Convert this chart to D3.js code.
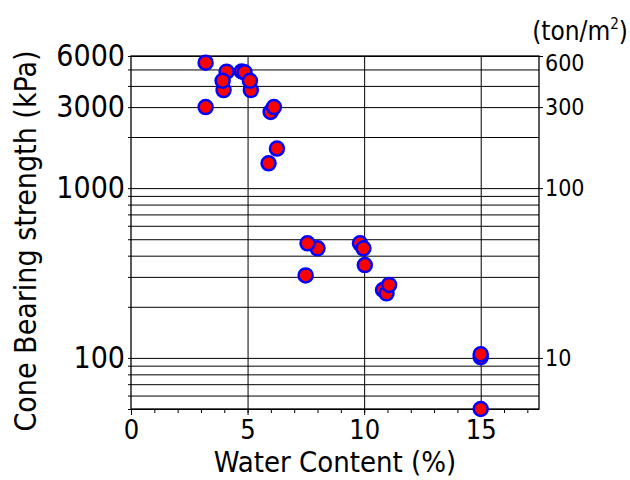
<!DOCTYPE html>
<html><head><meta charset="utf-8">
<script src="https://cdn.jsdelivr.net/npm/d3@7"></script>
<style>
body{margin:0;background:#fff;}
svg text{font-family:"Comic Sans MS","DejaVu Sans Condensed","DejaVu Sans",sans-serif;fill:#000;}
</style></head><body>
<svg id="c" width="630" height="480"></svg>
<script>
// ---- data ----
const waterContent = [3.2, 3.2, 4.1, 3.97, 3.93, 4.75, 4.87, 5.14, 5.1, 5.99, 6.13, 6.26, 5.9, 8.0, 7.57, 7.49, 9.82, 9.97, 10.03, 10.81, 10.96, 11.07, 15, 15, 15];
const coneBearing  = [5480, 3000, 4850, 3780, 4290, 4870, 4810, 3780, 4290, 2810, 3000, 1710, 1400, 442, 473, 306, 473, 442, 352, 251, 240, 269, 101, 105, 50];
const leftTickLabels  = [100, 1000, 3000, 6000];
const rightTickLabels = [10, 100, 300, 600];
const xTickLabels = [0, 5, 10, 15];
const xMinorTicks = [0,1,2,3,4,5,6,7,8,9,10,11,12,13,14,15,16,17];
const gridValues = [50,60,70,80,90,100,200,300,400,500,600,700,800,900,1000,2000,3000,4000,5000,6000];
const kPaPerTon = 10;

// ---- layout ----
const svg = d3.select("#c");
const m = {l:131, r:539, t:56, b:409};
const x = d3.scaleLinear().domain([0, 17.5]).range([m.l, m.r]);
const y = d3.scaleLog().domain([50, 6000]).range([m.b, m.t]);
const yR = d3.scaleLog().domain([50/kPaPerTon, 6000/kPaPerTon]).range([m.b, m.t]);

function styleAxis(g, size){
  g.attr("font-family", null).attr("font-size", null);
  g.selectAll("text").style("font-size", size + "px");
  g.selectAll("line").attr("stroke", "#000");
  g.select(".domain").remove();
}

// horizontal grid
svg.append("g").attr("transform", `translate(${m.l},0)`)
  .call(d3.axisRight(y).tickValues(gridValues).tickSize(m.r - m.l).tickFormat(""))
  .call(g => styleAxis(g, 10));
// vertical grid
svg.append("g").attr("transform", `translate(0,${m.b})`)
  .call(d3.axisTop(x).tickValues([5,10,15]).tickSize(m.b - m.t).tickFormat(""))
  .call(g => styleAxis(g, 10));

// frame
svg.append("rect").attr("x", m.l).attr("y", m.t).attr("width", m.r - m.l).attr("height", m.b - m.t)
  .attr("fill", "none").attr("stroke", "#000").attr("stroke-width", 1.3);

// left axis
svg.append("g").attr("transform", `translate(${m.l},0)`)
  .call(d3.axisLeft(y).tickValues(gridValues).tickSize(3).tickPadding(3)
    .tickFormat(d => leftTickLabels.includes(d) ? String(d) : ""))
  .call(g => styleAxis(g, 30));

// right axis
svg.append("g").attr("transform", `translate(${m.r},0)`)
  .call(d3.axisRight(yR).tickValues(rightTickLabels).tickSize(4).tickPadding(2).tickFormat(d => String(d)))
  .call(g => styleAxis(g, 23))
  .call(g => g.selectAll(".tick").filter(d => d === 600).select("text").attr("dy", "0.62em"));

// bottom axis: minor and major ticks
svg.append("g").attr("transform", `translate(0,${m.b})`)
  .call(d3.axisBottom(x).tickValues(xMinorTicks).tickSize(4).tickFormat(""))
  .call(g => styleAxis(g, 10));
svg.append("g").attr("transform", `translate(0,${m.b})`)
  .call(d3.axisBottom(x).tickValues(xTickLabels).tickSize(6).tickPadding(5).tickFormat(d => String(d)))
  .call(g => styleAxis(g, 27));

// points
svg.append("g").selectAll("circle")
  .data(waterContent.map((w, i) => ({w, c: coneBearing[i]})))
  .join("circle")
  .attr("cx", d => x(d.w)).attr("cy", d => y(d.c)).attr("r", 7)
  .attr("fill", "#ff0000").attr("stroke", "#0000ff").attr("stroke-width", 2.5);

// titles
svg.append("text").attr("transform", "translate(36,241) rotate(-90)")
  .attr("text-anchor", "middle").style("font-size", "30px").text("Cone Bearing strength (kPa)");
svg.append("text").attr("x", 335).attr("y", 472)
  .attr("text-anchor", "middle").style("font-size", "29px").text("Water Content (%)");
const unit = svg.append("text").attr("x", 628).attr("y", 40).attr("text-anchor", "end").style("font-size", "26px");
unit.append("tspan").text("(ton/m");
unit.append("tspan").attr("dy", -11).style("font-size", "15px").text("2");
unit.append("tspan").attr("dy", 11).text(")");
</script>
</body></html>
